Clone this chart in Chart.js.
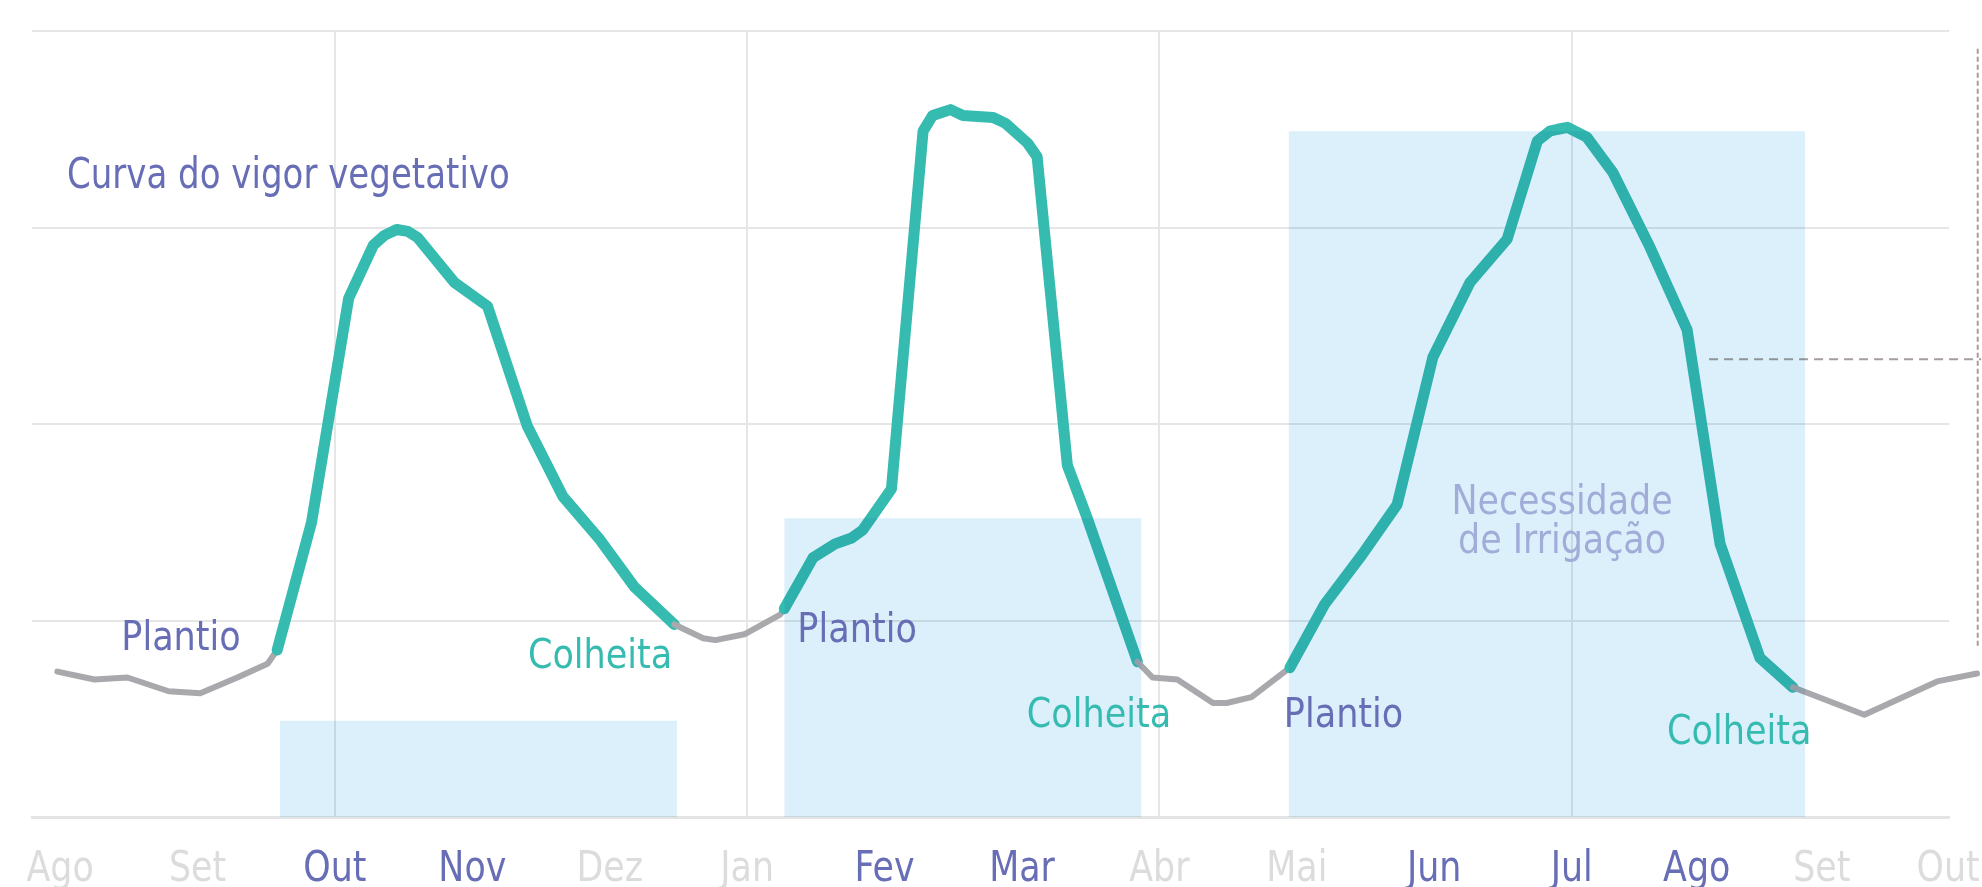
<!DOCTYPE html>
<html>
<head>
<meta charset="utf-8">
<script src="https://cdn.jsdelivr.net/npm/chart.js@4.4.1/dist/chart.umd.min.js"></script>
<style>
    html, body { margin: 0; padding: 0; background: #fff; }
    #wrap { width: 1982px; height: 887px; position: relative; }
</style>
</head>
<body>
<div id="wrap"><canvas id="vigor"></canvas></div>
<script>
// months on the x axis (value = month index, Ago = 0)
var monthLabels = ['Ago', 'Set', 'Out', 'Nov', 'Dez', 'Jan', 'Fev', 'Mar', 'Abr', 'Mai', 'Jun', 'Jul', 'Ago', 'Set', 'Out'];
var monthTicks = [0, 1, 2, 3, 4, 5, 6, 7, 8, 9, 10, 11, 11.91, 12.82, 13.74];
var monthActive = [0, 0, 1, 1, 0, 0, 1, 1, 0, 0, 1, 1, 1, 0, 0];
var gridMonths = [2, 5, 8, 11];

// curva do vigor vegetativo
var curveX = [-0.02, 0.25, 0.49, 0.79, 1.02, 1.29, 1.51, 1.58,
    1.83, 2.10, 2.28, 2.36, 2.45, 2.53, 2.60, 2.87, 3.11, 3.40, 3.66, 3.93, 4.18, 4.47,
    4.68, 4.77, 4.98, 5.24, 5.27,
    5.48, 5.64, 5.76, 5.84, 6.05, 6.28, 6.35, 6.48, 6.57, 6.79, 6.88, 7.04, 7.11, 7.33, 7.47, 7.84,
    7.95, 8.13, 8.39, 8.49, 8.67, 8.95,
    9.20, 9.47, 9.73, 9.99, 10.26, 10.53, 10.75, 10.84, 10.90, 10.97, 11.11, 11.30, 11.57, 11.84, 12.08, 12.37, 12.61,
    13.13, 13.66, 13.95];
var curveY = [0.74, 0.70, 0.71, 0.64, 0.63, 0.71, 0.78, 0.85,
    1.50, 2.64, 2.91, 2.96, 2.99, 2.98, 2.95, 2.72, 2.60, 1.99, 1.63, 1.41, 1.17, 0.98,
    0.91, 0.90, 0.93, 1.03, 1.06,
    1.32, 1.39, 1.42, 1.46, 1.67, 3.49, 3.57, 3.60, 3.57, 3.56, 3.53, 3.43, 3.36, 1.79, 1.53, 0.79,
    0.71, 0.70, 0.58, 0.58, 0.61, 0.76,
    1.08, 1.33, 1.59, 2.34, 2.72, 2.94, 3.44, 3.49, 3.50, 3.51, 3.46, 3.28, 2.90, 2.48, 1.39, 0.81, 0.66,
    0.52, 0.69, 0.73];

// ciclos: plantio -> colheita
var plantioX = [1.58, 5.27, 8.95];
var colheitaX = [4.47, 7.84, 12.61];

// necessidade de irrigacao
var irrigStart = [1.60, 5.27, 8.94];
var irrigEnd = [4.49, 7.87, 12.70];
var irrigLevel = [0.49, 1.52, 3.49];

// text notes
var phaseNames = ['Plantio', 'Colheita', 'Plantio', 'Colheita', 'Plantio', 'Colheita'];
var phaseX = [0.88, 3.93, 5.80, 7.56, 9.34, 12.22];
var phaseY = [0.85, 0.76, 0.89, 0.46, 0.46, 0.37];

var TEAL = '#35bbb0';
var GREY = '#a9a9ad';
var PURPLE = '#686eb6';
var FONT = "'Liberation Sans Narrow', 'DejaVu Sans Condensed', 'Roboto', sans-serif";

// no narrow face installed: squeeze the text horizontally instead
var textStretch = 0.9;
var canvas = document.getElementById('vigor');
var ctx = canvas.getContext('2d');
var rawFillText = ctx.fillText;
ctx.fillText = function (text, x, y) {
    this.save();
    this.translate(x, y);
    this.scale(textStretch, 1);
    rawFillText.call(this, text, 0, 0);
    this.restore();
};

function inSeason(seg) {
    var x0 = seg.p0.parsed.x, x1 = seg.p1.parsed.x;
    for (var i = 0; i < plantioX.length; i++) {
        if (x0 >= plantioX[i] - 0.001 && x1 <= colheitaX[i] + 0.001) return true;
    }
    return false;
}

var curvePoints = curveX.map(function (v, i) { return { x: v, y: curveY[i] }; });

var datasets = [];

irrigStart.forEach(function (s, i) {
    datasets.push({
        data: [{ x: s, y: 0 }, { x: s, y: irrigLevel[i] }, { x: irrigEnd[i], y: irrigLevel[i] }, { x: irrigEnd[i], y: 0 }],
        fill: 'origin',
        backgroundColor: '#dcf0fb',
        borderWidth: 0,
        pointRadius: 0,
        order: 0
    });
});

var curveIndex = datasets.length;
datasets.push({
    data: curvePoints,
    borderColor: GREY,
    borderWidth: 6,
    borderCapStyle: 'round',
    borderJoinStyle: 'round',
    tension: 0,
    pointRadius: 0,
    fill: false,
    clip: false,
    order: 1,
    segment: {
        borderColor: function (c) { return inSeason(c) ? TEAL : GREY; },
        borderWidth: function (c) { return inSeason(c) ? 11 : 6; }
    }
});

// cropped bracket on the right edge
datasets.push({
    data: [{ x: 13.955, y: 3.91 }, { x: 13.955, y: 0.87 }],
    borderColor: '#a59d9a', borderWidth: 2, borderDash: [5, 3],
    pointRadius: 0, fill: false, clip: false, order: 0
});
datasets.push({
    data: [{ x: 12.0, y: 2.33 }, { x: 13.98, y: 2.33 }],
    borderColor: '#a59d9a', borderWidth: 2, borderDash: [9, 6],
    pointRadius: 0, fill: false, clip: false, order: 0
});

var notesPlugin = {
    id: 'notes',
    beforeDraw: function () { textStretch = 0.9; },
    beforeDatasetsDraw: function (chart) {
        chart.ctx.globalCompositeOperation = 'source-over';
    },
    afterDatasetDraw: function (chart, args) {
        // once the curve is down, the irrigation boxes tint what is under them
        if (args.index === curveIndex) chart.ctx.globalCompositeOperation = 'multiply';
    },
    afterDatasetsDraw: function (chart) {
        var c = chart.ctx, x = chart.scales.x, y = chart.scales.y;
        c.globalCompositeOperation = 'source-over';
        c.save();
        c.textBaseline = 'alphabetic';

        textStretch = 0.88;
        c.font = '43px ' + FONT;
        c.fillStyle = PURPLE;
        c.textAlign = 'left';
        c.fillText('Curva do vigor vegetativo', x.getPixelForValue(0.05), y.getPixelForValue(3.20));

        textStretch = 0.95;
        c.textAlign = 'center';
        c.font = '41px ' + FONT;
        phaseNames.forEach(function (name, i) {
            c.fillStyle = name === 'Plantio' ? PURPLE : TEAL;
            c.fillText(name, x.getPixelForValue(phaseX[i]), y.getPixelForValue(phaseY[i]));
        });

        textStretch = 0.945;
        c.fillStyle = '#a2acd9';
        c.fillText('Necessidade', x.getPixelForValue(10.93), y.getPixelForValue(1.54));
        c.fillText('de Irrigação', x.getPixelForValue(10.93), y.getPixelForValue(1.345));
        c.restore();
        textStretch = 0.9;
    }
};

var chart = new Chart(ctx, {
    type: 'line',
    data: { datasets: datasets },
    plugins: [notesPlugin],
    options: {
        responsive: true,
        maintainAspectRatio: false,
        animation: false,
        layout: { padding: { top: 31, left: 32, right: 33, bottom: 0 } },
        plugins: {
            legend: { display: false },
            tooltip: { enabled: false }
        },
        scales: {
            x: {
                type: 'linear',
                min: -0.2044,
                max: 13.746,
                afterBuildTicks: function (axis) {
                    axis.ticks = monthTicks.map(function (v) { return { value: v }; });
                },
                afterFit: function (axis) {
                    axis.height = 70;
                    axis.paddingLeft = 0;
                    axis.paddingRight = 0;
                },
                ticks: {
                    autoSkip: false,
                    maxRotation: 0,
                    minRotation: 0,
                    padding: 27,
                    font: { family: FONT, size: 43 },
                    color: function (c) { return monthActive[c.index] ? PURPLE : '#dcdcdc'; },
                    callback: function (v, i) { return monthLabels[i]; }
                },
                grid: {
                    drawTicks: false,
                    lineWidth: 2,
                    color: function (c) {
                        return c.tick && gridMonths.indexOf(c.tick.value) >= 0 ? '#e6e6e6' : 'rgba(0,0,0,0)';
                    }
                },
                border: { display: true, color: '#e4e4e4', width: 3 }
            },
            y: {
                min: 0,
                max: 4,
                afterFit: function (axis) { axis.width = 0; },
                ticks: { display: false, stepSize: 1 },
                grid: { drawTicks: false, lineWidth: 2, color: '#e6e6e6' },
                border: { display: false }
            }
        }
    }
});
</script>
</body>
</html>
